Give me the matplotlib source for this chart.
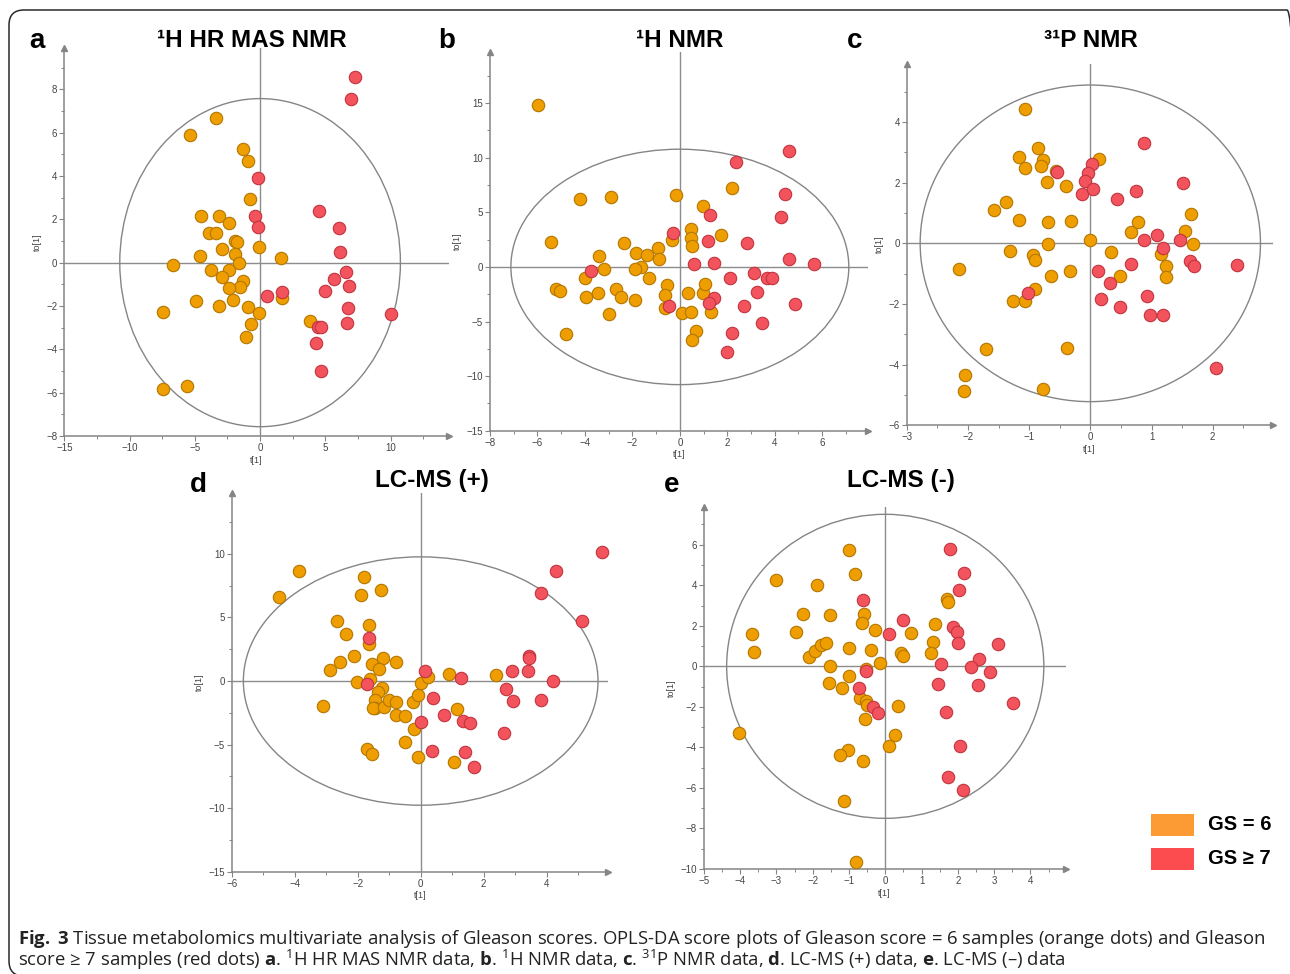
import matplotlib.pyplot as plt
from matplotlib.patches import Ellipse, Rectangle, FancyBboxPatch
from matplotlib.ticker import MultipleLocator, AutoMinorLocator
from matplotlib.transforms import IdentityTransform

plt.rcParams['font.family'] = ['Liberation Sans', 'DejaVu Sans']
plt.rcParams['mathtext.fontset'] = 'custom'
plt.rcParams['mathtext.rm'] = 'Open Sans'
plt.rcParams['mathtext.bf'] = 'Open Sans:bold'
plt.rcParams['mathtext.it'] = 'Open Sans:italic'

# ---- scores: t[1] / to[1] for GS = 6 and GS >= 7 ----
# a: 1H HR MAS NMR
a_gs6_t = [-3.35, -5.4, -1.3, -0.9, -0.79, -4.5, -3.12, -2.35, -3.94, -3.4, -1.92, -1.74, -0.08, -2.94, -4.58,
           -1.94, -1.59, 1.64, -6.7, -3.79, -2.35, -2.94, -1.3, -1.53, -2.35, -2.07, -4.88, -3.15, -0.95, -0.08,
           -7.47, -0.66, -1.07, 1.71, 3.79, -7.42, -5.63]
a_gs6_to = [6.68, 5.88, 5.25, 4.68, 2.95, 2.14, 2.14, 1.82, 1.35, 1.35, 1.02, 0.94, 0.74, 0.63, 0.31,
            0.38, -0.03, 0.22, -0.12, -0.32, -0.32, -0.66, -0.85, -1.14, -1.18, -1.71, -1.75, -1.98, -2.05, -2.32,
            -2.28, -2.85, -3.42, -1.63, -2.71, -5.82, -5.71]
a_gs7_t = [7.29, 6.96, -0.18, -0.41, -0.18, 4.55, 6.04, 6.11, 6.6, 5.63, 6.8, 4.96, 0.54, 1.71, 6.7,
           10.03, 6.68, 4.4, 4.65, 4.27, 4.7]
a_gs7_to = [8.58, 7.55, 3.89, 2.14, 1.66, 2.37, 1.6, 0.49, -0.43, -0.77, -1.09, -1.32, -1.52, -1.35, -2.11,
            -2.35, -2.78, -2.95, -2.95, -3.69, -5.02]

# b: 1H NMR
b_gs6_t = [-5.98, -4.21, -2.92, -0.15, 2.18, 0.96, -5.41, -2.36, -1.85, -1.4, -0.91, -0.88, -3.4, -3.19, -1.62,
           -1.87, -4.0, -1.31, -0.35, 0.46, 0.45, 0.53, 1.73, -5.2, -5.06, -3.96, -3.44, -2.67, -2.49, -1.87,
           -2.98, -4.79, -0.55, -0.63, -0.62, 0.08, 0.49, 0.35, 0.96, 1.08, 1.33, 0.69, 0.51]
b_gs6_to = [14.83, 6.23, 6.41, 6.59, 7.23, 5.58, 2.29, 2.2, 1.28, 1.13, 1.77, 0.70, 1.04, -0.18, -0.03,
            -0.21, -1.04, -1.04, 2.44, 3.45, 2.62, 1.92, 2.9, -2.04, -2.23, -2.72, -2.41, -2.04, -2.72, -2.99,
            -4.3, -6.16, -1.65, -2.59, -3.72, -4.24, -4.09, -2.38, -2.38, -1.53, -4.15, -5.83, -6.65]
b_gs7_t = [4.59, 2.37, 4.44, 4.28, 1.29, -0.27, 1.17, 2.82, 0.6, 1.45, 4.59, 5.66, -3.75, 2.11, 3.13,
           3.68, 3.88, 1.45, 1.22, 3.24, 2.71, 4.87, -0.45, 3.47, 2.2, 1.98]
b_gs7_to = [10.65, 9.58, 6.65, 4.58, 4.76, 3.11, 2.41, 2.2, 0.27, 0.34, 0.7, 0.27, -0.37, -1.04, -0.52,
            -1.04, -1.04, -2.84, -3.27, -2.32, -3.57, -3.42, -3.57, -5.1, -6.01, -7.81]

# c: 31P NMR
c_gs6_t = [-1.07, -0.85, -1.17, -0.78, -0.8, -1.06, -0.56, -0.71, -0.4, 0.15, -1.38, -1.57, -1.17, -0.69, -0.32,
           -0.69, -0.01, -1.31, -0.94, -0.9, -0.64, -0.33, -2.14, -0.9, -1.26, -1.06, 0.33, 0.48, 0.66, 0.78,
           1.64, 1.54, 1.67, 1.15, 1.24, 1.24, -1.7, -0.38, -2.04, -2.07, -0.78]
c_gs6_to = [4.44, 3.15, 2.84, 2.75, 2.56, 2.47, 2.4, 2.01, 1.9, 2.79, 1.37, 1.1, 0.76, 0.7, 0.73,
            -0.02, 0.12, -0.26, -0.4, -0.56, -1.08, -0.9, -0.85, -1.49, -1.91, -1.91, -0.3, -1.08, 0.36, 0.69,
            0.96, 0.41, -0.02, -0.36, -0.74, -1.1, -3.48, -3.46, -4.34, -4.86, -4.8]
c_gs7_t = [0.87, -0.55, 0.02, -0.04, -0.08, -0.13, 0.04, 0.44, 0.75, 1.51, 1.09, 1.19, 0.87, 1.46, 1.63,
           1.69, 2.39, 0.66, 0.13, 0.32, 0.17, 0.49, 0.93, 0.97, 1.18, -1.02, 2.06]
c_gs7_to = [3.32, 2.35, 2.62, 2.32, 2.07, 1.63, 1.78, 1.47, 1.73, 1.99, 0.26, -0.14, 0.11, 0.12, -0.59,
            -0.74, -0.7, -0.69, -0.92, -1.31, -1.85, -2.1, -1.74, -2.37, -2.37, -1.65, -4.12]

# d: LC-MS (+)
d_gs6_t = [-4.49, -3.85, -1.81, -1.89, -1.27, -2.67, -1.65, -2.36, -1.65, -2.12, -2.88, -2.55, -1.56, -1.21, -1.32,
           -0.79, -2.01, -1.61, -1.22, -1.37, -1.45, -1.44, -1.52, -1.16, -0.99, -0.78, -0.79, -0.5, -0.25, -0.07,
           0.0, 0.22, -0.2, -0.5, -0.08, -1.71, -1.54, -3.1, 0.9, 1.15, 1.07, 2.39]
d_gs6_to = [6.64, 8.66, 8.18, 6.74, 7.16, 4.75, 4.41, 3.73, 2.94, 1.99, 0.87, 1.47, 1.31, 1.81, 0.97,
            1.47, -0.1, 0.16, -0.52, -0.89, -1.5, -2.15, -2.12, -2.05, -1.5, -1.68, -2.7, -2.73, -1.68, -1.1,
            -0.13, 0.34, -3.75, -4.77, -5.95, -5.35, -5.75, -1.99, 0.58, -2.23, -6.35, 0.5]
d_gs7_t = [5.77, 4.29, 3.82, 5.11, 3.44, 3.43, 2.91, 3.4, 4.2, 2.71, 2.93, 3.82, 1.28, 0.14, -1.65,
           -1.71, 0.39, 0.02, 0.75, 1.33, 1.57, 2.65, 0.36, 1.41, 1.68]
d_gs7_to = [10.15, 8.66, 6.95, 4.75, 1.99, 1.78, 0.81, 0.81, 0.0, -0.63, -1.55, -1.47, 0.21, 0.79, 3.36,
            -0.24, -1.31, -3.2, -2.65, -3.12, -3.28, -4.12, -5.54, -5.61, -6.74]

# e: LC-MS (-)
e_gs6_t = [-1.01, -0.82, -3.0, -1.87, -3.66, -3.62, -2.45, -2.27, -1.53, -0.59, -0.64, -0.27, -2.1, -1.93, -1.77,
           -1.64, -1.0, -0.39, -0.14, -0.54, -1.53, -1.01, -1.56, -1.2, -0.7, -0.53, -0.51, -0.55, 0.34, 0.27,
           0.09, -1.04, -1.24, -0.6, -1.15, -4.03, -0.8, 0.43, 0.5, 0.71, 1.38, 1.32, 1.26, 1.69, 1.74]
e_gs6_to = [5.74, 4.56, 4.26, 4.03, 1.6, 0.72, 1.68, 2.58, 2.55, 2.58, 2.14, 1.78, 0.44, 0.76, 1.04,
            1.13, 0.89, 0.81, 0.18, -0.13, 0.02, -0.46, -0.82, -1.05, -1.55, -1.71, -1.89, -2.58, -1.97, -3.4,
            -3.95, -4.13, -4.36, -4.69, -6.66, -3.27, -9.67, 0.67, 0.51, 1.64, 2.09, 1.2, 0.64, 3.31, 3.19]
e_gs7_t = [1.78, 2.18, 2.03, -0.62, 0.49, 0.09, 1.87, 1.97, 2.0, 3.11, 1.55, 2.58, 2.37, 2.89, 1.45,
           2.56, 3.52, -0.53, -0.73, -0.34, -0.2, 1.68, 2.05, 1.72, 2.14]
e_gs7_to = [5.79, 4.59, 3.78, 3.27, 2.27, 1.58, 1.94, 1.71, 1.15, 1.12, 0.13, 0.35, -0.05, -0.3, -0.87,
            -0.92, -1.81, -0.21, -1.07, -1.99, -2.32, -2.24, -3.91, -5.44, -6.1]

# Hotelling T2 ellipse semi-axes (t, to)
ellipse_a = [10.75, 7.57]
ellipse_b = [7.12, 10.78]
ellipse_c = [2.78, 5.22]
ellipse_d = [5.63, 9.77]
ellipse_e = [4.37, 7.50]

titles = ['\u00b9H HR MAS NMR', '\u00b9H NMR', '\u00b3\u00b9P NMR', 'LC-MS (+)', 'LC-MS (-)']
letters = ['a', 'b', 'c', 'd', 'e']
legend_labels = ['GS = 6', 'GS \u2265 7']

ORANGE, ORANGE_EDGE = '#EE9E00', '#B47600'
RED, RED_EDGE = '#F2535D', '#C2343E'
GREY = '#858585'

W, H = 1290, 974
fig = plt.figure(figsize=(W / 100, H / 100), dpi=100)


def px_axes(l, t, r, b):
    return fig.add_axes([l / W, 1 - b / H, (r - l) / W, (b - t) / H])


# layout in pixels: left, top, right, bottom of the plotting box, plus limits and tick steps
panels = [
    dict(box=(64.3, 48.1, 448.7, 436.0), xlim=(-15, 14.45), ylim=(-8, 9.9), xs=5, ys=2,
         data=(a_gs6_t, a_gs6_to, a_gs7_t, a_gs7_to), ell=ellipse_a,
         title_xy=(252, 47), letter_xy=(29, 48)),
    dict(box=(490.0, 51.8, 868.5, 430.7), xlim=(-8, 7.95), ylim=(-15, 19.7), xs=2, ys=5,
         data=(b_gs6_t, b_gs6_to, b_gs7_t, b_gs7_to), ell=ellipse_b,
         title_xy=(680, 47), letter_xy=(438, 48)),
    dict(box=(906.7, 63.5, 1272.7, 425.3), xlim=(-3, 2.98), ylim=(-6, 5.93), xs=1, ys=2,
         data=(c_gs6_t, c_gs6_to, c_gs7_t, c_gs7_to), ell=ellipse_c,
         title_xy=(1091, 47), letter_xy=(847, 48)),
    dict(box=(231.7, 493.3, 608.4, 871.7), xlim=(-6, 5.96), ylim=(-15, 14.77), xs=2, ys=5,
         data=(d_gs6_t, d_gs6_to, d_gs7_t, d_gs7_to), ell=ellipse_d,
         title_xy=(432, 487), letter_xy=(190, 492)),
    dict(box=(703.8, 506.6, 1065.6, 869.0), xlim=(-5, 4.97), ylim=(-10, 7.88), xs=1, ys=2,
         data=(e_gs6_t, e_gs6_to, e_gs7_t, e_gs7_to), ell=ellipse_e,
         title_xy=(901, 487), letter_xy=(664, 492)),
]

for p, title, letter in zip(panels, titles, letters):
    ax = px_axes(*p['box'])
    ax.set_xlim(*p['xlim'])
    ax.set_ylim(*p['ylim'])
    for s in ['top', 'right']:
        ax.spines[s].set_visible(False)
    for s in ['left', 'bottom']:
        ax.spines[s].set_color(GREY)
        ax.spines[s].set_linewidth(1.1)
    ax.xaxis.set_major_locator(MultipleLocator(p['xs']))
    ax.yaxis.set_major_locator(MultipleLocator(p['ys']))
    ax.xaxis.set_minor_locator(AutoMinorLocator(2))
    ax.yaxis.set_minor_locator(AutoMinorLocator(2))
    ax.tick_params(which='major', length=3.5, width=0.8, color=GREY, labelsize=7,
                   labelcolor='#444444', pad=1.5)
    ax.tick_params(which='minor', length=2, width=0.7, color=GREY)
    ax.set_xlabel('t[1]', fontsize=6.5, color='#444444', labelpad=2)
    ax.set_ylabel('to[1]', fontsize=6.5, color='#444444', labelpad=3)
    # arrow heads on the axes
    ax.plot(1, 0, '>', color=GREY, markersize=5, transform=ax.transAxes, clip_on=False)
    ax.plot(0, 1, '^', color=GREY, markersize=5, transform=ax.transAxes, clip_on=False)

    ax.axhline(0, color='#8c8c8c', lw=1, zorder=1)
    ax.axvline(0, color='#8c8c8c', lw=1, zorder=1)
    ax.add_patch(Ellipse((0, 0), 2 * p['ell'][0], 2 * p['ell'][1], fill=False,
                         edgecolor='#858585', lw=1, zorder=1))

    t6, to6, t7, to7 = p['data']
    ax.scatter(t6, to6, s=80, color=ORANGE, edgecolors=ORANGE_EDGE, linewidths=0.8, zorder=3, clip_on=False)
    ax.scatter(t7, to7, s=80, color=RED, edgecolors=RED_EDGE, linewidths=0.8, zorder=3, clip_on=False)

    tx, ty = p['title_xy']
    fig.text(tx / W, 1 - ty / H, title, ha='center', va='baseline', fontsize=17.5, fontweight='bold')
    lx, ly = p['letter_xy']
    fig.text(lx / W, 1 - ly / H, letter, ha='left', va='baseline', fontsize=20, fontweight='bold')

# legend
leg_colors = ['#FC9A33', '#FC4C50']
leg_top = [814, 848]
for lab, col, top in zip(legend_labels, leg_colors, leg_top):
    fig.add_artist(Rectangle((1151 / W, 1 - (top + 22) / H), 43 / W, 22 / H, transform=fig.transFigure,
                             facecolor=col, edgecolor='none'))
    fig.text(1208 / W, 1 - (top + 11) / H, lab, ha='left', va='center', fontsize=14.5, fontweight='bold')

# frame around the figure (display pixels, origin bottom left)
fig.add_artist(FancyBboxPatch((9, -2), 1293, 966, boxstyle='round,pad=0,rounding_size=15',
                              transform=IdentityTransform(), fill=False, edgecolor='#2a2a2a', lw=1.1))

# caption
cap1 = (r'$\mathbf{Fig.}$ $\mathbf{3}$ Tissue metabolomics multivariate analysis of Gleason scores. '
        r'OPLS-DA score plots of Gleason score = 6 samples (orange dots) and Gleason')
cap2 = ('score \u2265 7 samples (red dots) $\\mathbf{a}$. $^{1}$H HR MAS NMR data, $\\mathbf{b}$. $^{1}$H NMR data, '
        '$\\mathbf{c}$. $^{31}$P NMR data, $\\mathbf{d}$. LC-MS (+) data, $\\mathbf{e}$. LC-MS (\u2013) data')
fig.text(18 / W, 1 - 944 / H, cap1, ha='left', va='baseline', fontsize=13.3,
         family=['Open Sans', 'DejaVu Sans'], color='#222222')
fig.text(18 / W, 1 - 966 / H, cap2, ha='left', va='baseline', fontsize=13.3,
         family=['Open Sans', 'DejaVu Sans'], color='#222222')

fig.savefig('out.png', dpi=100)
